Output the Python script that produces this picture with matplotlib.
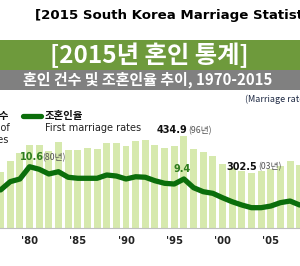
import matplotlib
matplotlib.use("Agg")
import matplotlib.pyplot as plt
from matplotlib.patches import Rectangle

# ==============================================================
# Data
# ==============================================================
years = list(range(1977, 2009))
marriages = [305, 343.6, 374.6, 403.0, 403.5, 381.9, 413.3, 384.4, 384.4, 391.6,
             389.1, 410.7, 410.7, 399.3, 416.9, 419.8, 402.6, 393.1, 398.5, 434.9,
             388.6, 375.6, 362.7, 332.1, 318.4, 307.0, 302.5, 308.6, 316.0, 326.0,
             343.6, 330.0]
first_rate = [8.33, 9.14, 9.4, 10.6, 10.35, 9.89, 10.11, 9.57, 9.47, 9.47,
              9.47, 9.79, 9.69, 9.4, 9.62, 9.57, 9.23, 8.98, 8.91, 9.4,
              8.55, 8.16, 8.0, 7.57, 7.18, 6.86, 6.6, 6.6, 6.76, 7.09,
              7.25, 6.86]
tick_years = [1980, 1985, 1990, 1995, 2000, 2005]
tick_labels = ["'80", "'85", "'90", "'95", "'00", "'05"]

KR = ['Noto Sans CJK KR', 'DejaVu Sans']

W, H = 300, 266
fig = plt.figure(figsize=(W / 100, H / 100), dpi=100)
fig.patch.set_facecolor('white')


def fx(px):
    return px / W


def fy(py):
    return 1 - py / H


# ==============================================================
# Header bands
# ==============================================================
fig.text(fx(35), fy(16), "[2015 South Korea Marriage Statistics]", ha='left', va='center',
         fontsize=9.6, fontweight='bold', color='black', family='DejaVu Sans')

fig.patches.append(Rectangle((0, fy(70)), 1, fy(40) - fy(70), transform=fig.transFigure,
                             facecolor='#6e9a3c', edgecolor='none'))
fig.patches.append(Rectangle((0, fy(90)), 1, fy(70) - fy(90), transform=fig.transFigure,
                             facecolor='#808080', edgecolor='none'))
fig.text(fx(149), fy(55), "[2015년 혼인 통계]", ha='center', va='center',
         fontsize=17.5, fontweight='bold', color='white', family=KR)
fig.text(fx(148), fy(80), "혼인 건수 및 조혼인율 추이, 1970-2015", ha='center', va='center',
         fontsize=10.8, fontweight='bold', color='white', family=KR)
fig.text(fx(245), fy(99), "(Marriage rates)", ha='left', va='center',
         fontsize=6.5, color='#1f2a44', family=KR)

# ==============================================================
# Chart
# ==============================================================
ax = fig.add_axes([0, fy(228), 1, fy(100) - fy(228)])
ax.bar(years, marriages, width=0.72, color='#d6e9ad', edgecolor='none', zorder=1)
ax.set_xlim(1976.94, 2008.03)
ax.set_ylim(102.8, 564.9)
ax.set_xticks(tick_years)
ax.set_xticklabels(tick_labels, fontsize=7.2, fontweight='bold', color='#222222',
                   family='DejaVu Sans')
ax.tick_params(axis='x', length=0, pad=6)
ax.set_yticks([])
for s in ['top', 'left', 'right']:
    ax.spines[s].set_visible(False)
ax.spines['bottom'].set_color('#bfbfbf')
ax.spines['bottom'].set_linewidth(0.8)

ax2 = ax.twinx()
ax2.plot(years, first_rate, color='#0b6e0b', lw=3.8, solid_joinstyle='round',
         solid_capstyle='round', zorder=3)
ax2.set_ylim(4.617, 17.11)
ax2.set_yticks([])
for s in ['top', 'left', 'right', 'bottom']:
    ax2.spines[s].set_visible(False)

# annotations
ax2.text(1979.0, 10.6 + 0.9, "10.6", ha='left', va='center', fontsize=7,
         fontweight='bold', color='#2e7d1e', family='DejaVu Sans')
ax2.text(1981.35, 10.6 + 0.9, "(80년)", ha='left', va='center', fontsize=6.3,
         color='#555555', family=KR)
ax2.text(1995.8, 9.4 + 1.0, "9.4", ha='center', va='center', fontsize=7,
         fontweight='bold', color='#2e7d1e', family='DejaVu Sans')
ax.text(1996.35, 434.9 + 20, "434.9", ha='right', va='center', fontsize=7,
        fontweight='bold', color='#111111', family='DejaVu Sans')
ax.text(1996.45, 434.9 + 20, "(96년)", ha='left', va='center', fontsize=6.3,
        color='#555555', family=KR)
ax.text(2003.6, 302.5 + 22, "302.5", ha='right', va='center', fontsize=7,
        fontweight='bold', color='#111111', family='DejaVu Sans')
ax.text(2003.7, 302.5 + 22, "(03년)", ha='left', va='center', fontsize=6.3,
        color='#555555', family=KR)

# ==============================================================
# Legend (partly cut at the left edge)
# ==============================================================
fig.text(fx(9), fy(116), "혼인건수", ha='right', va='center', fontsize=7.5,
         fontweight='bold', color='#111111', family=KR)
fig.text(fx(10), fy(128), "Number of", ha='right', va='center', fontsize=7,
         color='#222222', family='DejaVu Sans')
fig.text(fx(8), fy(140), "marriages", ha='right', va='center', fontsize=7,
         color='#222222', family='DejaVu Sans')
fig.lines.append(plt.Line2D([fx(23), fx(41)], [fy(116), fy(116)], transform=fig.transFigure,
                            color='#0b6e0b', lw=3.8, solid_capstyle='round'))
fig.text(fx(45), fy(116), "조혼인율", ha='left', va='center', fontsize=7.5,
         fontweight='bold', color='#111111', family=KR)
fig.text(fx(45), fy(128), "First marriage rates", ha='left', va='center', fontsize=7,
         color='#222222', family='DejaVu Sans')

fig.savefig("out.png", dpi=100, facecolor='white')
